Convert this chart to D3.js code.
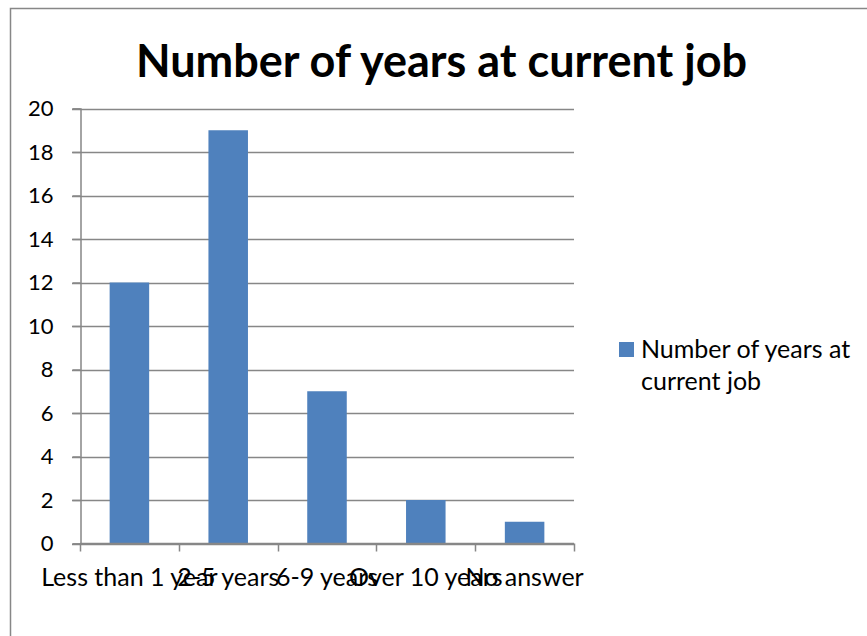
<!DOCTYPE html>
<html>
<head>
<meta charset="utf-8">
<script src="https://cdn.jsdelivr.net/npm/d3@7"></script>
<style>
  html, body { margin: 0; padding: 0; background: #fff; }
  svg { display: block; }
  text { font-family: Lato, "Open Sans", sans-serif; fill: #000; }
</style>
</head>
<body>
<svg id="chart" width="867" height="636"></svg>
<script>
// Survey tallies: years spent at current job
const categories = ["Less than 1 year", "2-5 years", "6-9 years", "Over 10 years", "No answer"];
const counts = [12, 19, 7, 2, 1];
const seriesName = "Number of years at current job";
const yTicks = [0, 2, 4, 6, 8, 10, 12, 14, 16, 18, 20];

const svg = d3.select("#chart");
const gridColor = "#878787";
const barColor = "#4F81BD";

// chart frame
svg.append("rect")
  .attr("x", 10.5).attr("y", 8.5)
  .attr("width", 900).attr("height", 700)
  .attr("fill", "#fff").attr("stroke", gridColor).attr("stroke-width", 1.5);

// plot area
const plot = { left: 80, right: 574, top: 108.5, bottom: 543.5 };

const y = d3.scaleLinear().domain([0, 20]).range([plot.bottom, plot.top]);
const x = d3.scaleBand()
  .domain(categories)
  .range([plot.left, plot.right])
  .paddingInner(0.6)
  .paddingOuter(0.3);

// horizontal gridlines
svg.append("g").selectAll("line")
  .data(yTicks)
  .join("line")
  .attr("x1", plot.left - 8).attr("x2", plot.right)
  .attr("y1", d => Math.round(y(d)) + 0.5).attr("y2", d => Math.round(y(d)) + 0.5)
  .attr("stroke", gridColor).attr("stroke-width", 1.5);

// bars
svg.append("g").selectAll("rect")
  .data(categories.map((c, i) => ({ c, v: counts[i] })))
  .join("rect")
  .attr("x", d => x(d.c))
  .attr("width", x.bandwidth())
  .attr("y", d => y(d.v))
  .attr("height", d => y(0) - y(d.v))
  .attr("fill", barColor);

// y axis
const yAxis = d3.axisLeft(y).tickValues(yTicks).tickSize(8).tickPadding(19);
const gy = svg.append("g")
  .attr("transform", `translate(${plot.left + 0.5},0)`)
  .call(yAxis);
gy.select(".domain").attr("stroke", gridColor).attr("stroke-width", 1.5);
gy.selectAll(".tick line").attr("stroke", gridColor).attr("stroke-width", 1.5);
gy.selectAll(".tick text")
  .attr("font-size", 22).attr("font-family", "Lato, sans-serif").attr("fill", "#000");

// x axis: baseline with ticks at category boundaries
const step = x.step();
const bounds = d3.range(categories.length + 1).map(i => plot.left + i * step);
const gx = svg.append("g");
gx.append("line")
  .attr("x1", plot.left).attr("x2", plot.right)
  .attr("y1", y(0)).attr("y2", y(0))
  .attr("stroke", gridColor).attr("stroke-width", 1.5);
gx.selectAll("line.tick")
  .data(bounds)
  .join("line")
  .attr("class", "tick")
  .attr("x1", d => Math.round(d) + 0.5).attr("x2", d => Math.round(d) + 0.5)
  .attr("y1", y(0)).attr("y2", y(0) + 8)
  .attr("stroke", gridColor).attr("stroke-width", 1.5);
gx.selectAll("text")
  .data(categories)
  .join("text")
  .attr("x", d => x(d) + x.bandwidth() / 2)
  .attr("y", 586)
  .attr("text-anchor", "middle")
  .attr("font-size", 25)
  .text(d => d);

// title
svg.append("text")
  .attr("x", 441.5).attr("y", 77)
  .attr("text-anchor", "middle")
  .attr("font-size", 45)
  .attr("font-weight", "bold")
  .text(seriesName);

// legend
const legend = svg.append("g");
legend.append("rect")
  .attr("x", 619).attr("y", 342)
  .attr("width", 15).attr("height", 15)
  .attr("fill", barColor);
legend.append("text")
  .attr("x", 641).attr("y", 358)
  .attr("font-size", 25)
  .text("Number of years at");
legend.append("text")
  .attr("x", 641).attr("y", 390)
  .attr("font-size", 25)
  .text("current job");
</script>
</body>
</html>
